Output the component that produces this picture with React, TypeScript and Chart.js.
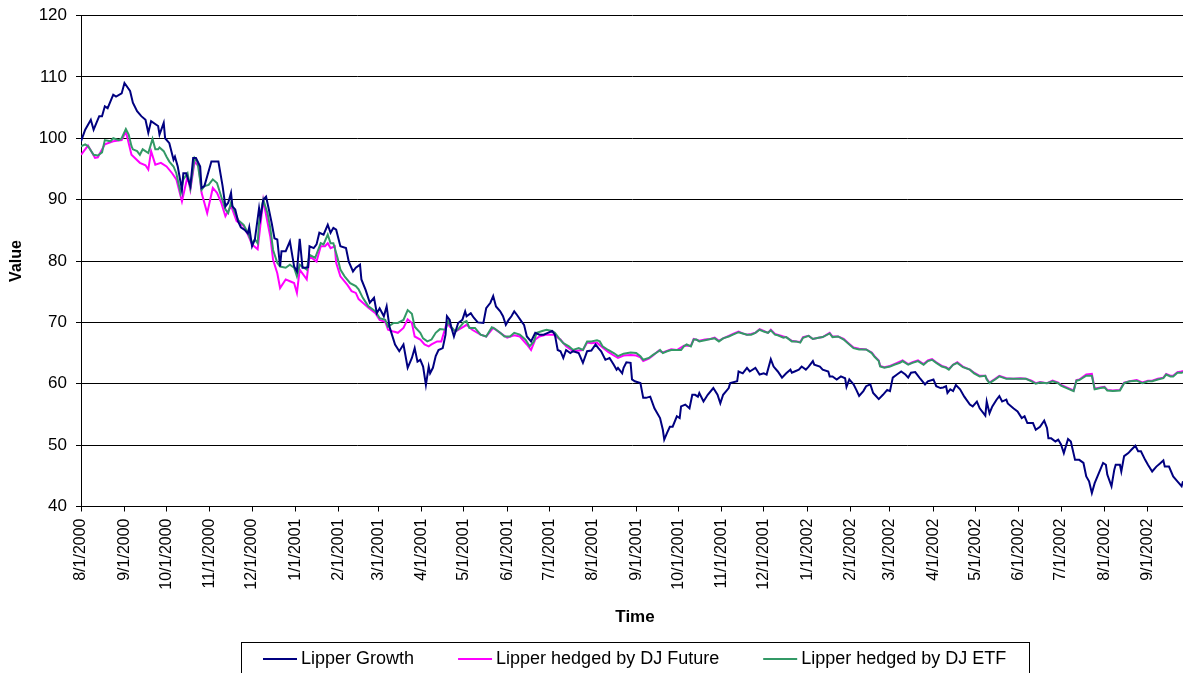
import React, { useEffect, useRef } from 'react';
import { Chart, registerables } from 'chart.js';

Chart.register(...registerables);

const FONT = "'Liberation Sans', Arial, sans-serif";

const tickLabels = [
  '8/1/2000', '9/1/2000', '10/1/2000', '11/1/2000', '12/1/2000',
  '1/1/2001', '2/1/2001', '3/1/2001', '4/1/2001', '5/1/2001', '6/1/2001',
  '7/1/2001', '8/1/2001', '9/1/2001', '10/1/2001', '11/1/2001', '12/1/2001',
  '1/1/2002', '2/1/2002', '3/1/2002', '4/1/2002', '5/1/2002', '6/1/2002',
  '7/1/2002', '8/1/2002', '9/1/2002',
];

const seriesNames = ['Lipper Growth', 'Lipper hedged by DJ Future', 'Lipper hedged by DJ ETF'];
const seriesColors = ['#000080', '#FF00FF', '#339966'];

// day offsets counted from 8/1/2000
const growthDays = [
  0, 3, 7, 9, 13, 15, 17, 19, 23, 25, 29, 31, 35, 37, 40, 43, 46, 48, 50, 55, 56, 59, 60, 63, 66, 67, 69, 72, 73, 75,
  78, 80, 82, 85, 86, 88, 92, 93, 98, 101, 103, 105, 107, 108, 110, 112, 114, 117, 119, 120, 122, 124, 127, 128, 130,
  132, 134, 136, 138, 140, 142, 143, 146, 149, 152, 154, 156, 158, 160, 162, 163, 166, 168, 170, 173, 176, 178, 180,
  182, 185, 189, 191, 194, 196, 199, 200, 203, 206, 209, 211, 213, 216, 218, 220, 224, 227, 230, 233, 236, 238, 240,
  242, 244, 246, 248, 249, 251, 253, 255, 258, 260, 261, 263, 264, 266, 269, 272, 274, 275, 278, 280, 283, 287, 289,
  292, 294, 296, 299, 301, 303, 305, 307, 309, 311, 314, 316, 318, 321, 324, 327, 330, 333, 336, 338, 340, 342, 344,
  346, 349, 351, 355, 358, 361, 364, 367, 369, 371, 374, 377, 380, 382, 383, 386, 387, 389, 392, 393, 395, 399, 401,
  403, 406, 409, 413, 415, 416, 418, 420, 422, 425, 427, 428, 431, 434, 436, 438, 440, 441, 444, 447, 451, 454, 456,
  458, 462, 463, 468, 469, 472, 475, 477, 481, 484, 487, 489, 492, 494, 497, 500, 503, 506, 507, 509, 512, 514, 517,
  519, 522, 523, 527, 529, 533, 534, 536, 539, 542, 545, 546, 548, 551, 553, 555, 558, 560, 563, 565, 567, 569, 572,
  575, 577, 579, 582, 585, 588, 590, 592, 595, 598, 602, 604, 608, 610, 613, 615, 617, 618, 620, 622, 624, 627, 630,
  634, 636, 639, 641, 645, 646, 648, 650, 653, 655, 657, 660, 661, 665, 668, 671, 673, 675, 679, 681, 684, 687, 689,
  690, 692, 695, 697, 699, 701, 704, 706, 709, 712, 715, 717, 719, 721, 723, 725, 729, 731, 732, 735, 737, 738, 741,
  742, 744, 747, 749, 752, 754, 756, 759, 761, 764, 767, 770, 772, 773, 776, 779, 782, 785, 786,
];
const growthValues = [
  99.5, 101.4, 103, 101.4, 103.6, 103.6, 105.2, 104.9, 107.1, 106.8, 107.3, 109, 107.7, 105.8, 104.4, 103.6, 103, 100.9,
  102.8, 102, 100.6, 102.5, 100, 99.2, 96.5, 97, 95.4, 91.6, 94.3, 94.3, 92.2, 96.8, 96.8, 95.4, 91.9, 92.2, 95.4, 96.2,
  96.2, 92.2, 88.9, 89.5, 91.1, 88.9, 88.4, 86.5, 85.5, 85, 84.5, 85.5, 82.4, 83.5, 88.6, 87, 90, 90.5, 88.4, 86.2, 83.7,
  83.5, 79.1, 81.6, 81.6, 83.2, 79.1, 78.3, 83.6, 78.9, 78.9, 79, 82.4, 82.1, 82.7, 84.6, 84.3, 85.9, 84.6, 85.4, 85.1,
  82.4, 82.1, 79.9, 78.3, 78.9, 79.4, 77, 75.3, 73.2, 74, 71.5, 72.3, 71, 72.6, 69.3, 66.4, 65.3, 66.4, 62.6, 64.2, 65.8,
  63.6, 63.9, 62.8, 59.8, 62.8, 61.7, 62.6, 64.5, 65.5, 65.8, 68, 71, 70.4, 69.3, 67.7, 69.9, 70.4, 71.8, 71, 71.5, 70.8,
  70, 69.9, 72.3, 73.2, 74.3, 72.6, 71.8, 71, 69.6, 70.4, 71, 71.8, 71.2, 70.2, 69.6, 67.7, 66.9, 68.3, 68, 68, 68.3,
  68.6, 68, 65.5, 65.3, 64.2, 65.5, 65, 65.3, 65, 63.4, 65.3, 65.4, 66.4, 65.8, 65.3, 63.9, 64.2, 63.1, 62.3, 62.6, 61.7,
  62.6, 63.5, 63.4, 60.7, 60.4, 60.1, 57.7, 57.7, 57.9, 56, 54.4, 52.5, 50.9, 52, 53, 53, 54.7, 54.4, 56.3, 56.6, 56,
  58.2, 58.2, 57.9, 58.5, 57.1, 58.2, 59.3, 58.2, 56.8, 58.2, 59.3, 60.1, 60.4, 62, 61.7, 62.6, 62, 62.6, 61.5, 61.7,
  61.5, 64, 62.8, 62, 61, 61.7, 62.3, 61.8, 62, 62.3, 62.8, 62.3, 62.8, 63.7, 63.1, 62.8, 62.3, 62, 61.2, 61.2, 60.7,
  61.2, 60.9, 59.5, 60.7, 59.9, 59, 58, 58.8, 59.6, 59.9, 58.5, 58, 57.5, 58.2, 59, 58.8, 61, 61.5, 62, 61.5, 61, 61.8,
  61.9, 61, 59.9, 60.4, 60.7, 59.6, 59.3, 59.4, 59.6, 58.5, 59.1, 58.8, 59.8, 59.1, 57.9, 56.6, 56.3, 57.1, 56, 54.8,
  57.1, 55.2, 56.3, 57.4, 58, 57.1, 57.4, 56.8, 56, 55.5, 54.4, 54.7, 53.6, 53.6, 52.5, 53, 54, 52.8, 51.1, 51.1, 50.6,
  50.9, 50.1, 48.7, 51, 50.6, 47.6, 47.6, 47.1, 44.9, 44.1, 42.2, 43.8, 44.9, 47.1, 46.8, 45.2, 43.3, 46, 46.8, 46.8,
  45.7, 48.2, 48.7, 49.2, 49.9, 49, 49, 47.6, 46.8, 45.7, 46.5, 47.1, 47.5, 46.5, 46.5, 44.9, 44.1, 43.3, 44.1,
];

const futureDays = [
  0, 5, 10, 12, 17, 23, 29, 32, 36, 42, 46, 48, 50, 53, 57, 61, 65, 68, 72, 76, 78, 81, 84, 86, 90, 94, 97, 100, 103,
  107, 111, 116, 119, 122, 126, 130, 135, 137, 140, 142, 146, 149, 152, 154, 156, 161, 163, 168, 171, 174, 176, 178,
  181, 182, 185, 190, 193, 196, 198, 201, 205, 210, 213, 217, 219, 223, 226, 230, 233, 236, 238, 242, 245, 248, 250,
  254, 257, 261, 263, 267, 273, 275, 279, 285, 289, 294, 299, 304, 309, 313, 318, 321, 324, 327, 332, 337, 342, 346,
  351, 358, 361, 364, 368, 372, 376, 380, 383, 387, 392, 396, 399, 401, 405, 408, 412, 415, 421, 425, 430, 435, 437,
  441, 445, 449, 452, 455, 458, 462, 465, 469, 472, 475, 478, 481, 484, 487, 490, 492, 495, 501, 503, 507, 510, 513,
  515, 519, 522, 526, 529, 534, 536, 540, 544, 547, 551, 555, 560, 564, 566, 569, 570, 573, 577, 580, 584, 586, 590,
  593, 597, 601, 604, 607, 610, 614, 617, 619, 622, 625, 629, 634, 637, 641, 645, 646, 648, 652, 655, 660, 665, 670,
  674, 678, 681, 684, 689, 693, 697, 699, 703, 708, 710, 712, 717, 721, 723, 727, 730, 732, 736, 741, 744, 748, 753,
  757, 761, 764, 768, 772, 774, 777, 779, 782, 785, 786,
];
const futureValues = [
  97.3, 98.8, 96.8, 96.9, 99, 99.5, 99.7, 101.1, 97.3, 96, 95.6, 94.9, 97.9, 95.7, 96, 95.4, 94.3, 93.3, 89.7, 93.8, 91.6,
  96.2, 95.4, 91.1, 87.8, 91.9, 91.1, 89.5, 87.3, 89, 86.5, 85.7, 84.3, 82.7, 81.9, 89.9, 84, 80.2, 78, 75.6, 77, 76.7,
  76.4, 74.8, 78.6, 77, 80.8, 79.9, 82.4, 82.4, 82.9, 82.1, 82.4, 79.7, 77.5, 76.1, 75.1, 74.8, 73.8, 73.2, 72.4, 71.5,
  70.4, 70.1, 68.8, 68.5, 68.3, 69.1, 70.5, 69.9, 67.7, 67.2, 66.4, 66.1, 66.4, 66.9, 66.9, 70, 69.3, 68.5, 69.3, 69.6,
  68.8, 68, 67.7, 69.1, 68.3, 67.5, 67.9, 67.7, 66.4, 65.5, 67.2, 67.7, 68, 68, 67.2, 66.1, 65.3, 65.5, 66.7, 66.6, 66.7,
  65.9, 65.2, 64.6, 64.2, 64.6, 64.7, 64.6, 64.3, 63.7, 64.1, 64.6, 65.4, 65.1, 65.6, 65.5, 66.2, 66.2, 67.3, 67, 67.2,
  67.3, 67.5, 67, 67.4, 67.8, 68.1, 68.5, 68.2, 68, 68.1, 68.3, 68.9, 68.6, 68.3, 68.8, 68.1, 67.7, 67.6, 67, 66.9, 66.8,
  67.6, 67.8, 67.3, 67.5, 67.6, 68.3, 67.7, 67.7, 67.3, 66.7, 65.9, 65.7, 65.6, 65.1, 64.5, 63.8, 62.9, 62.7, 62.9, 63.2,
  63.6, 63.8, 63.2, 63.5, 63.8, 63.2, 63.8, 64, 63.5, 62.9, 62.7, 62.4, 63.1, 63.5, 62.8, 62.3, 61.8, 61.3, 61.3, 60.8,
  60.2, 60.8, 61.3, 60.9, 60.8, 60.9, 60.8, 60.5, 60.1, 60.3, 60.1, 60.5, 60.2, 59.8, 59.4, 58.9, 60.6, 60.7, 61.5, 61.6,
  59.2, 59.4, 59.5, 59, 58.9, 59, 60.2, 60.4, 60.6, 60.2, 60.5, 60.5, 60.8, 61, 61.6, 61.3, 61.3, 61.9, 62, 62.1,
];

const etfDays = [
  0, 3, 5, 9, 12, 15, 17, 21, 23, 27, 29, 32, 34, 36, 37, 40, 42, 44, 48, 51, 53, 55, 56, 59, 61, 63, 66, 68, 71, 73,
  76, 78, 81, 83, 86, 88, 91, 94, 97, 100, 103, 105, 107, 110, 112, 116, 119, 122, 124, 126, 127, 130, 133, 135, 137,
  140, 142, 146, 149, 152, 154, 156, 159, 161, 163, 167, 171, 173, 176, 178, 180, 183, 185, 188, 192, 196, 198, 201,
  205, 207, 210, 213, 217, 219, 223, 226, 230, 233, 236, 238, 242, 244, 247, 250, 253, 256, 260, 262, 264, 267, 269,
  273, 275, 277, 281, 285, 289, 293, 295, 299, 302, 306, 309, 313, 317, 320, 323, 325, 329, 332, 336, 338, 341, 344,
  348, 351, 355, 358, 361, 364, 368, 370, 372, 376, 380, 383, 387, 392, 396, 399, 401, 405, 408, 412, 413, 415, 418,
  421, 425, 428, 430, 432, 435, 437, 439, 441, 445, 449, 452, 455, 458, 462, 465, 469, 472, 475, 478, 481, 484, 487,
  490, 492, 495, 497, 501, 503, 507, 510, 513, 515, 519, 522, 526, 529, 534, 536, 540, 544, 547, 551, 555, 560, 564,
  566, 569, 570, 573, 577, 580, 584, 586, 590, 593, 597, 601, 604, 607, 610, 614, 617, 619, 622, 625, 629, 634, 637,
  641, 645, 646, 648, 652, 655, 660, 665, 670, 674, 678, 681, 684, 689, 693, 697, 699, 703, 708, 710, 712, 717, 721,
  723, 727, 730, 732, 736, 741, 744, 748, 753, 757, 761, 764, 768, 772, 774, 777, 779, 782, 785, 786,
];
const etfValues = [
  98.7, 99, 98.7, 97.3, 97.2, 97.7, 99.7, 99.5, 100, 99.7, 100, 101.5, 100.6, 98.7, 98.2, 97.9, 97.3, 98.2, 97.6, 99.9,
  98.2, 98.2, 98.5, 97.9, 97, 96.2, 95.4, 94.3, 91.1, 93.3, 94.3, 91.9, 96.8, 96.2, 91.6, 92.2, 92.4, 93.3, 92.7, 90.5,
  88.4, 87.8, 89.5, 87.8, 86.7, 85.9, 84.6, 82.9, 83.5, 82.9, 86.2, 90, 87.8, 85.4, 81.8, 79.7, 79.1, 78.9, 79.4, 78.9,
  77.5, 79.4, 78.9, 78.6, 81, 80.5, 82.9, 82.7, 84.3, 82.9, 82.9, 80.5, 78.6, 77.5, 76.4, 75.9, 75.4, 74, 72.6, 72.3,
  71.8, 70.7, 70.4, 69.3, 69.9, 69.9, 70.4, 72, 71.4, 69.3, 68.3, 67.4, 66.9, 67.2, 68.3, 68.9, 68.8, 70.2, 69.3, 68.5,
  68.9, 70, 70.2, 69.1, 69.1, 68, 67.7, 69.2, 69, 68.3, 67.7, 67.7, 68.3, 68, 67.2, 66.1, 66.9, 68.3, 68.6, 68.8, 68.6,
  68.3, 67.4, 66.6, 66.1, 65.5, 65.8, 65.5, 66.9, 66.9, 67.1, 66.9, 66.1, 65.5, 65, 64.5, 64.9, 65.1, 65, 64.5, 63.9,
  64.2, 64.7, 65.3, 65.5, 65, 65.3, 65.5, 65.5, 65.5, 66.1, 66.4, 66.1, 67.2, 67.2, 66.9, 67.1, 67.3, 67.4, 66.9, 67.4,
  67.7, 68, 68.4, 68.2, 68, 68, 68.3, 68.8, 68.5, 68.3, 68.7, 68, 67.9, 67.5, 67.6, 66.9, 66.9, 66.7, 67.5, 67.8, 67.3,
  67.5, 67.6, 68.2, 67.6, 67.7, 67.2, 66.6, 65.8, 65.6, 65.6, 65, 64.4, 63.7, 62.8, 62.6, 62.8, 63.1, 63.4, 63.7, 63.1,
  63.4, 63.7, 63.1, 63.7, 63.9, 63.4, 62.8, 62.6, 62.3, 63.1, 63.4, 62.7, 62.3, 61.7, 61.2, 61.3, 60.7, 60.1, 60.7,
  61.2, 60.8, 60.8, 60.8, 60.8, 60.4, 60, 60.2, 60.1, 60.4, 60.1, 59.7, 59.3, 58.8, 60.5, 60.6, 61.3, 61.3, 59.1, 59.3,
  59.4, 58.9, 58.8, 58.9, 60.1, 60.4, 60.5, 60.1, 60.4, 60.4, 60.7, 60.9, 61.5, 61.2, 61.2, 61.8, 61.8, 61.9,
];

const xMaxDay = 786;

function dayOffset(label: string): number {
  const [m, d, y] = label.split('/').map(Number);
  return Math.round((Date.UTC(y, m - 1, d) - Date.UTC(2000, 7, 1)) / 86400000);
}
const tickDays = tickLabels.map(dayOffset);

const toPoints = (days: number[], vals: number[]) => days.map((d, i) => ({ x: d, y: vals[i] }));

const decorPlugin = {
  id: 'decor',
  afterDraw(chart: any) {
    const { ctx, chartArea } = chart;
    ctx.save();
    ctx.fillStyle = '#000';
    ctx.textAlign = 'center';
    ctx.textBaseline = 'middle';
    // Y title
    ctx.save();
    ctx.font = `bold 16px ${FONT}`;
    ctx.translate(17, (chartArea.top + chartArea.bottom) / 2);
    ctx.rotate(-Math.PI / 2);
    ctx.fillText('Value', 0, 0);
    ctx.restore();
    // X title
    ctx.font = `bold 17px ${FONT}`;
    ctx.fillText('Time', (chartArea.left + chartArea.right) / 2 + 3, 617);
    // Legend
    ctx.font = `18px ${FONT}`;
    const lineLen = 34, gap = 4, spacing = 44, padL = 22, padR = 23;
    const widths = seriesNames.map((n) => ctx.measureText(n).width);
    const total = padL + widths.reduce((a, w) => a + lineLen + gap + w, 0) + spacing * (seriesNames.length - 1) + padR;
    const left = Math.round(635 - total / 2);
    ctx.strokeStyle = '#000';
    ctx.lineWidth = 1;
    ctx.strokeRect(left + 0.5, 642.5, Math.round(total), 60);
    let x = left + padL;
    const y = 659;
    ctx.textAlign = 'left';
    seriesNames.forEach((n, i) => {
      ctx.strokeStyle = seriesColors[i];
      ctx.lineWidth = 2;
      ctx.beginPath();
      ctx.moveTo(x, y);
      ctx.lineTo(x + lineLen, y);
      ctx.stroke();
      ctx.fillText(n, x + lineLen + gap, y);
      x += lineLen + gap + widths[i] + spacing;
    });
    ctx.restore();
  },
};

export default function App() {
  const ref = useRef<HTMLCanvasElement | null>(null);
  useEffect(() => {
    document.body.style.margin = '0';
    if (!ref.current) return;
    const mk = (i: number, pts: any[], order: number) => ({
      label: seriesNames[i],
      data: pts,
      borderColor: seriesColors[i],
      backgroundColor: seriesColors[i],
      borderWidth: 2,
      pointRadius: 0,
      tension: 0,
      fill: false,
      order,
    });
    const chart = new Chart(ref.current, {
      type: 'line',
      data: {
        datasets: [
          mk(0, toPoints(growthDays, growthValues), 0),
          mk(1, toPoints(futureDays, futureValues), 2),
          mk(2, toPoints(etfDays, etfValues), 1),
        ],
      },
      options: {
        animation: false,
        responsive: false,
        devicePixelRatio: 1,
        parsing: false as any,
        layout: { padding: { top: 15.5, left: 0, right: 0, bottom: 0 } },
        plugins: { legend: { display: false }, tooltip: { enabled: false } },
        scales: {
          x: {
            type: 'linear',
            min: 0,
            max: xMaxDay,
            afterBuildTicks: (s: any) => {
              s.ticks = tickDays.map((v) => ({ value: v }));
            },
            afterFit: (s: any) => {
              s.height = 166.5;
              s.paddingLeft = 0;
              s.paddingRight = 0;
            },
            ticks: {
              autoSkip: false,
              minRotation: 90,
              maxRotation: 90,
              padding: 7,
              color: '#000',
              font: { family: FONT, size: 16 },
              callback: (v: any) => tickLabels[tickDays.indexOf(Number(v))] ?? '',
            },
            grid: { drawOnChartArea: false, drawTicks: true, tickLength: 5, color: '#000' },
            border: { color: '#000', width: 1 },
          },
          y: {
            type: 'linear',
            min: 40,
            max: 120,
            afterFit: (s: any) => {
              s.width = 81;
              s.paddingTop = 0;
              s.paddingBottom = 0;
            },
            ticks: { stepSize: 10, padding: 9, color: '#000', font: { family: FONT, size: 17 } },
            grid: { color: '#000', lineWidth: 1, tickLength: 5 },
            border: { color: '#000', width: 1 },
          },
        },
      } as any,
      plugins: [decorPlugin],
    });
    return () => chart.destroy();
  }, []);
  return <canvas ref={ref} width={1183} height={673} style={{ display: 'block' }} />;
}
